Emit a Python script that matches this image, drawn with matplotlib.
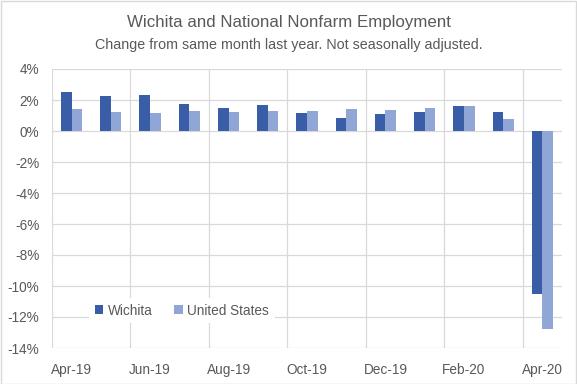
import numpy as np
import matplotlib.pyplot as plt
from matplotlib.patches import Rectangle

months = ['Apr-19', 'May-19', 'Jun-19', 'Jul-19', 'Aug-19', 'Sep-19', 'Oct-19',
          'Nov-19', 'Dec-19', 'Jan-20', 'Feb-20', 'Mar-20', 'Apr-20']
wichita = [2.54, 2.26, 2.32, 1.74, 1.48, 1.68, 1.16, 0.84, 1.10, 1.23, 1.61, 1.23, -10.5]
united_states = [1.42, 1.23, 1.16, 1.29, 1.23, 1.29, 1.29, 1.42, 1.35, 1.48, 1.61, 0.77, -12.8]
yticks = [4, 2, 0, -2, -4, -6, -8, -10, -12, -14]

plt.rcParams['font.family'] = ['Liberation Sans', 'DejaVu Sans']
grey = '#595959'

fig = plt.figure(figsize=(5.77, 3.84), dpi=100)
ax = fig.add_axes([52 / 577, 1 - 348 / 384, 510 / 577, 279 / 384])

x = np.arange(len(months))
w = 0.27
ax.bar(x - w / 2, wichita, w, color='#3A5DA8', label='Wichita', zorder=3)
ax.bar(x + w / 2, united_states, w, color='#8FA6D6', label='United States', zorder=3)

ax.set_xlim(-0.5, len(months) - 0.5)
ax.set_ylim(-14, 4)
ax.set_yticks(yticks)
ax.set_yticklabels([f'{v}%' for v in yticks])
ax.set_xticks(x[::2])
ax.set_xticklabels(months[::2])
ax.set_xticks(np.arange(-0.5, len(months) - 1, 2), minor=True)
ax.grid(axis='y', color='#D9D9D9', lw=0.9, zorder=0)
ax.grid(axis='x', which='minor', color='#D9D9D9', lw=0.9, zorder=0)
ax.tick_params(which='both', length=0, labelsize=9.8, colors=grey)
ax.tick_params(axis='x', pad=11)
ax.tick_params(axis='y', pad=9)
for s in ax.spines.values():
    s.set_visible(False)

leg = ax.legend(loc='lower left', bbox_to_anchor=(0.06, 0.065), ncol=2, frameon=True,
                fontsize=9.8, handlelength=0.6, handleheight=0.6, handletextpad=0.35,
                columnspacing=1.6, borderpad=0.4)
leg.get_frame().set_edgecolor('none')
leg.get_frame().set_facecolor('white')
leg.get_frame().set_alpha(1)
for t in leg.get_texts():
    t.set_color(grey)

fig.text(0.5, 1 - 22 / 384, 'Wichita and National Nonfarm Employment', ha='center', va='center',
         fontsize=12.2, color=grey)
fig.text(0.5, 1 - 45 / 384, 'Change from same month last year. Not seasonally adjusted.',
         ha='center', va='center', fontsize=10.3, color=grey)

fig.patches.append(Rectangle((0.5 / 577, 0.5 / 384), 1 - 1.5 / 577, 1 - 1.5 / 384,
                             transform=fig.transFigure, fill=False, edgecolor='#D9D9D9', lw=1))

fig.savefig('out.png', dpi=100)
